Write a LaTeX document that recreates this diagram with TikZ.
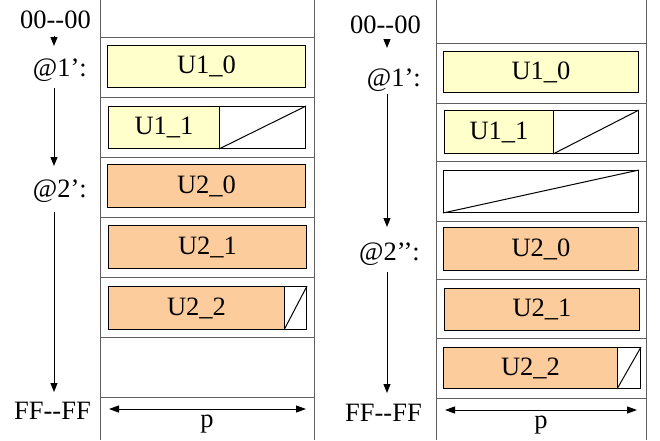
\documentclass[tikz,border=0pt]{standalone}
\usepackage{fontspec}
\setmainfont{Liberation Serif}
\usetikzlibrary{arrows.meta}
\definecolor{yel}{RGB}{255,255,204}
\definecolor{org}{RGB}{252,204,156}
\definecolor{sep}{RGB}{95,95,95}
\tikzset{
  lbl/.style={inner sep=0pt, anchor=base east},
  ybox/.style={draw=black, line width=1pt, fill=yel, inner sep=0pt, anchor=north west},
  obox/.style={draw=black, line width=1pt, fill=org, inner sep=0pt, anchor=north west},
  wbox/.style={draw=black, line width=1pt, fill=white, inner sep=0pt, anchor=north west},
  frame/.style={draw=sep, line width=1pt},
  arr/.style={line width=1pt, -{Triangle[length=9pt,width=7pt]}},
  darr/.style={line width=1pt, {Triangle[length=10pt,width=7pt]}-{Triangle[length=10pt,width=7pt]}},
}
\begin{document}
\begin{tikzpicture}[x=1pt,y=-1pt, font=\fontsize{26.5}{30}\selectfont]
\useasboundingbox (0,0) rectangle (660,440);
% ---------- left panel ----------
\draw[frame] (100,0) -- (100,440);
\draw[frame] (314,0) -- (314,440);
\foreach \y in {37,97,157,217,277,337,397} \draw[frame] (100,\y) -- (314,\y);
\node[ybox, minimum width=198pt, minimum height=42pt] (LU10) at (107,45) {};
\node at (LU10.center) {U1\_0};
\node[ybox, minimum width=111pt, minimum height=42pt] (LU11) at (108,106) {};
\node at (LU11.center) {U1\_1};
\node[wbox, minimum width=86pt, minimum height=42pt] (LU11e) at (219,106) {};
\draw[line width=1pt] (LU11e.south west) -- (LU11e.north east);
\node[obox, minimum width=198pt, minimum height=43pt] (LU20) at (107,164) {};
\node at (LU20.center) {U2\_0};
\node[obox, minimum width=198pt, minimum height=43pt] (LU21) at (108,225) {};
\node at (LU21.center) {U2\_1};
\node[obox, minimum width=176pt, minimum height=43pt] (LU22) at (108,286) {};
\node at (LU22.center) {U2\_2};
\node[wbox, minimum width=22pt, minimum height=43pt] (LU22e) at (284,286) {};
\draw[line width=1pt] (LU22e.south west) -- (LU22e.north east);
\coordinate (Lpa) at (109,409);
\coordinate (Lpb) at (306,409);
\draw[darr] (Lpa) -- (Lpb);
\node[inner sep=0pt, anchor=base] (Lp) at (207,427) {p};
% labels
\node[lbl] (L00) at (91,28) {00-{}-00};
\node[lbl] (L1) at (87,76) {@1’:};
\node[lbl] (L2) at (87,197) {@2’:};
\node[lbl] (LFF) at (91,419) {FF-{}-FF};
\coordinate (La0) at (54,36);
\coordinate (La0e) at (54,46);
\coordinate (La1) at (54,88);
\coordinate (La1e) at (54,166);
\coordinate (La2) at (54,212);
\coordinate (La2e) at (54,392);
\draw[arr] (La0) -- (La0e);
\draw[arr] (La1) -- (La1e);
\draw[arr] (La2) -- (La2e);
% ---------- right panel ----------
\draw[frame] (436,0) -- (436,440);
\draw[frame] (646,0) -- (646,440);
\foreach \y in {43,103,161,221,279,338,398} \draw[frame] (436,\y) -- (646,\y);
\node[ybox, minimum width=195pt, minimum height=41pt] (RU10) at (443,51) {};
\node at (RU10.center) {U1\_0};
\node[ybox, minimum width=109pt, minimum height=43pt] (RU11) at (444,110) {};
\node at (RU11.center) {U1\_1};
\node[wbox, minimum width=85pt, minimum height=43pt] (RU11e) at (553,110) {};
\draw[line width=1pt] (RU11e.south west) -- (RU11e.north east);
\node[wbox, minimum width=195pt, minimum height=42pt] (RE) at (443,170) {};
\draw[line width=1pt] (RE.south west) -- (RE.north east);
\node[obox, minimum width=195pt, minimum height=43pt] (RU20) at (443,227) {};
\node at (RU20.center) {U2\_0};
\node[obox, minimum width=195pt, minimum height=42pt] (RU21) at (444,288) {};
\node at (RU21.center) {U2\_1};
\node[obox, minimum width=174pt, minimum height=41pt] (RU22) at (443,347) {};
\node at (RU22.center) {U2\_2};
\node[wbox, minimum width=23pt, minimum height=41pt] (RU22e) at (617,347) {};
\draw[line width=1pt] (RU22e.south west) -- (RU22e.north east);
\coordinate (Rpa) at (445,410);
\coordinate (Rpb) at (637,410);
\draw[darr] (Rpa) -- (Rpb);
\node[inner sep=0pt, anchor=base] (Rp) at (541,428) {p};
% labels
\node[lbl] (R00) at (421,33) {00-{}-00};
\node[lbl] (R1) at (421,86) {@1’:};
\node[lbl] (R2) at (420,260) {@2’’:};
\node[lbl] (RFF) at (422,421) {FF-{}-FF};
\coordinate (Ra0) at (387,39);
\coordinate (Ra0e) at (387,48);
\coordinate (Ra1) at (387,94);
\coordinate (Ra1e) at (387,227);
\coordinate (Ra2) at (387,272);
\coordinate (Ra2e) at (387,393);
\draw[arr] (Ra0) -- (Ra0e);
\draw[arr] (Ra1) -- (Ra1e);
\draw[arr] (Ra2) -- (Ra2e);
\end{tikzpicture}
\end{document}
